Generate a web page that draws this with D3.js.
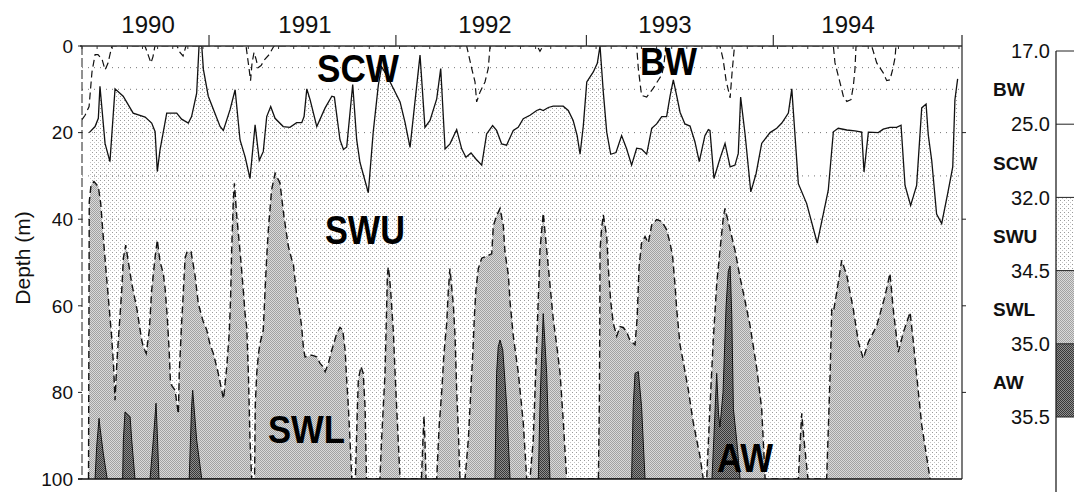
<!DOCTYPE html>
<html><head><meta charset="utf-8">
<script src="https://cdn.jsdelivr.net/npm/d3@7"></script>
<style>
html,body{margin:0;padding:0;background:#fff;}
svg{display:block;font-family:"Liberation Sans",Arial,Helvetica,sans-serif;}
</style></head><body>
<svg id="chart" width="1074" height="492"></svg>
<script>
// ---- DATA (time in decimal years, depth in m) ----
// 32.0 isohaline (SCW / SWU boundary), solid line
const iso32 = [[1989.790,20.0],[1989.822,18.6],[1989.840,16.7],[1989.849,9.3],[1989.877,22.5],[1989.904,26.7],[1989.932,9.9],[1989.977,11.6],[1990.032,15.5],[1990.098,16.4],[1990.134,17.8],[1990.153,19.8],[1990.165,29.0],[1990.180,24.0],[1990.217,15.5],[1990.272,15.5],[1990.299,16.9],[1990.336,17.8],[1990.354,16.3],[1990.382,10.9],[1990.395,0.0],[1990.410,0.0],[1990.419,5.4],[1990.446,11.6],[1990.511,18.6],[1990.529,19.5],[1990.566,14.7],[1990.594,10.1],[1990.621,21.7],[1990.649,25.6],[1990.676,30.6],[1990.704,18.2],[1990.727,26.4],[1990.749,24.4],[1990.768,16.3],[1990.790,14.0],[1990.814,16.7],[1990.859,18.6],[1990.896,18.8],[1990.933,17.7],[1990.961,17.7],[1990.974,16.3],[1990.989,9.9],[1991.007,12.4],[1991.044,18.6],[1991.090,14.3],[1991.127,11.6],[1991.141,11.8],[1991.172,21.7],[1991.191,23.9],[1991.209,23.3],[1991.242,8.9],[1991.264,21.7],[1991.282,26.9],[1991.328,33.9],[1991.355,19.9],[1991.383,9.1],[1991.401,4.8],[1991.429,6.7],[1991.466,9.8],[1991.503,12.9],[1991.530,17.6],[1991.558,23.4],[1991.585,12.9],[1991.613,2.1],[1991.640,18.8],[1991.668,17.2],[1991.705,12.2],[1991.727,5.2],[1991.751,23.8],[1991.778,22.6],[1991.815,19.3],[1991.843,23.8],[1991.866,25.7],[1991.894,24.7],[1991.921,26.1],[1991.953,27.5],[1991.980,20.3],[1992.013,18.4],[1992.035,19.5],[1992.063,22.6],[1992.090,22.9],[1992.127,19.5],[1992.154,18.8],[1992.182,16.8],[1992.219,16.0],[1992.256,14.9],[1992.274,14.6],[1992.292,14.9],[1992.320,14.2],[1992.347,13.9],[1992.402,13.9],[1992.430,14.9],[1992.457,17.2],[1992.479,20.7],[1992.495,25.0],[1992.513,18.4],[1992.532,8.3],[1992.568,6.0],[1992.590,4.0],[1992.605,0.0],[1992.623,10.6],[1992.642,19.9],[1992.664,25.0],[1992.693,24.6],[1992.724,20.7],[1992.752,23.8],[1992.779,27.5],[1992.807,23.6],[1992.834,23.8],[1992.862,25.0],[1992.890,19.0],[1992.917,18.0],[1992.945,16.3],[1992.972,16.3],[1992.991,11.6],[1993.009,7.8],[1993.028,11.6],[1993.046,15.3],[1993.073,18.0],[1993.101,18.5],[1993.128,22.1],[1993.152,26.7],[1993.183,20.7],[1993.202,19.3],[1993.211,19.5],[1993.233,30.6],[1993.266,26.0],[1993.294,22.5],[1993.322,27.9],[1993.349,27.5],[1993.367,24.8],[1993.380,11.8],[1993.404,20.2],[1993.436,33.7],[1993.465,29.5],[1993.496,22.5],[1993.542,20.0],[1993.579,19.0],[1993.607,17.8],[1993.643,15.5],[1993.662,9.9],[1993.698,31.8],[1993.744,36.4],[1993.802,45.5],[1993.863,33.3],[1993.891,19.8],[1993.918,19.0],[1993.965,19.4],[1994.010,19.6],[1994.047,19.9],[1994.060,29.1],[1994.084,19.9],[1994.139,20.0],[1994.166,19.2],[1994.203,18.8],[1994.240,18.8],[1994.264,18.3],[1994.286,32.2],[1994.317,36.8],[1994.350,32.2],[1994.378,14.3],[1994.402,13.4],[1994.414,20.5],[1994.433,26.4],[1994.460,38.8],[1994.488,41.0],[1994.521,34.1],[1994.549,27.9],[1994.561,12.4],[1994.576,7.6]];

// 34.5 isohaline (SWU / SWL boundary), dashed; 100 = absent
const iso345 = [[1989.750,100],[1989.786,100],[1989.790,36],[1989.800,32],[1989.816,31.3],[1989.840,32.5],[1989.853,36.3],[1989.867,44],[1989.886,53.7],[1989.904,62.5],[1989.914,67.5],[1989.924,74],[1989.932,81.8],[1989.941,74],[1989.950,68],[1989.960,62],[1989.969,56.4],[1989.978,49],[1989.991,46],[1990.006,50],[1990.024,54.8],[1990.052,60.6],[1990.079,67.9],[1990.088,69.5],[1990.104,71],[1990.121,65.6],[1990.134,56.4],[1990.153,48.7],[1990.165,44.8],[1990.180,49.8],[1990.198,52.5],[1990.208,56],[1990.219,62],[1990.230,70],[1990.238,78],[1990.263,79.5],[1990.281,85],[1990.286,75.6],[1990.299,64],[1990.307,58],[1990.318,49],[1990.329,47.5],[1990.351,47.5],[1990.373,53],[1990.391,59.5],[1990.417,63.5],[1990.437,65.5],[1990.456,69],[1990.474,71],[1990.501,75.6],[1990.520,79.5],[1990.530,81.5],[1990.535,79.5],[1990.548,74],[1990.562,66],[1990.569,58],[1990.575,47],[1990.584,35.5],[1990.590,31.7],[1990.603,39.3],[1990.625,49.3],[1990.639,56.4],[1990.649,62],[1990.658,65],[1990.667,75.6],[1990.676,91],[1990.685,100],[1990.701,100],[1990.705,83],[1990.713,75.6],[1990.723,71],[1990.731,68.7],[1990.749,65.6],[1990.759,56.4],[1990.768,48.7],[1990.777,42.5],[1990.795,33.2],[1990.814,29.4],[1990.841,31.6],[1990.863,39.3],[1990.887,46.2],[1990.906,49.3],[1990.914,50],[1990.933,57.5],[1990.952,62],[1990.961,65],[1990.970,69.5],[1990.979,71.8],[1991.016,71.4],[1991.044,71.8],[1991.062,73.3],[1991.077,74],[1991.090,75.2],[1991.108,73.3],[1991.127,70.2],[1991.154,66.4],[1991.172,65],[1991.187,65.6],[1991.200,70.2],[1991.209,77.2],[1991.218,83.3],[1991.227,91],[1991.237,100],[1991.257,100],[1991.266,86],[1991.273,77],[1991.288,74],[1991.300,75.6],[1991.310,83.3],[1991.318,100],[1991.392,100],[1991.401,91],[1991.411,83],[1991.420,75.6],[1991.428,62],[1991.433,53],[1991.438,51],[1991.444,53],[1991.451,56.4],[1991.466,66],[1991.475,75],[1991.484,83.3],[1991.503,100],[1991.621,100],[1991.629,91],[1991.635,85.5],[1991.640,91],[1991.646,100],[1991.705,100],[1991.718,88],[1991.733,79.5],[1991.745,71],[1991.760,64],[1991.769,56.4],[1991.778,51.4],[1991.797,60],[1991.806,67],[1991.815,79.5],[1991.825,90],[1991.833,100],[1991.861,100],[1991.879,91],[1991.898,75.6],[1991.905,70],[1991.913,62],[1991.921,56.4],[1991.934,51.4],[1991.953,49],[1992.008,48],[1992.017,41.5],[1992.037,39],[1992.054,37.5],[1992.072,41.5],[1992.081,47.5],[1992.100,53],[1992.109,59],[1992.127,67],[1992.155,75.6],[1992.182,87],[1992.201,100],[1992.219,100],[1992.237,91],[1992.256,69],[1992.265,58],[1992.274,47.2],[1992.292,38.6],[1992.311,47],[1992.329,55],[1992.347,63],[1992.366,69],[1992.385,75.6],[1992.403,87],[1992.421,100],[1992.596,100],[1992.602,80],[1992.604,62],[1992.605,47],[1992.614,42],[1992.623,39],[1992.642,44],[1992.651,51.4],[1992.664,59],[1992.678,64],[1992.697,67],[1992.715,64.8],[1992.733,65],[1992.752,66],[1992.770,68],[1992.798,69],[1992.810,62.6],[1992.820,51],[1992.834,45.5],[1992.853,44],[1992.871,45.5],[1992.890,41.3],[1992.917,40.1],[1992.945,40.5],[1992.972,42.4],[1992.991,45.5],[1993.005,48.6],[1993.018,55],[1993.028,61],[1993.046,69],[1993.064,73],[1993.092,79.5],[1993.119,87],[1993.156,94.8],[1993.174,100],[1993.193,100],[1993.211,83.3],[1993.229,68],[1993.248,55],[1993.266,47.2],[1993.285,39.4],[1993.294,37.5],[1993.322,42.4],[1993.349,47.2],[1993.377,53.5],[1993.395,57],[1993.432,64.6],[1993.469,74.5],[1993.496,83.7],[1993.515,100],[1993.698,100],[1993.710,90],[1993.717,84.8],[1993.727,90],[1993.751,100],[1993.854,100],[1993.873,76],[1993.882,61],[1993.891,61.5],[1993.909,57],[1993.937,49.5],[1993.965,53],[1994.001,60.8],[1994.029,68.4],[1994.056,72.2],[1994.084,68.4],[1994.130,64.6],[1994.176,57.7],[1994.203,52.5],[1994.221,60.8],[1994.249,70.7],[1994.277,66.1],[1994.314,61.5],[1994.332,68.4],[1994.350,76],[1994.378,87.5],[1994.406,95.1],[1994.424,100],[1994.600,100]];

// 35.0 isohaline (AW), 100 = absent
const iso35 = [[1989.750,100],[1989.822,100],[1989.831,92.5],[1989.844,86],[1989.849,88],[1989.867,94],[1989.889,100],[1989.974,100],[1989.978,91],[1989.987,84.5],[1990.015,85.6],[1990.024,91],[1990.042,100],[1990.125,100],[1990.143,91],[1990.158,82.5],[1990.165,89.5],[1990.174,100],[1990.341,100],[1990.354,83.3],[1990.360,79.5],[1990.382,91],[1990.410,100],[1992.026,100],[1992.035,75.6],[1992.044,69.5],[1992.054,67.9],[1992.069,70.2],[1992.091,83.3],[1992.109,100],[1992.265,100],[1992.274,83.3],[1992.283,71.8],[1992.292,61.8],[1992.311,75.6],[1992.329,100],[1992.779,100],[1992.788,83.3],[1992.798,75.6],[1992.816,75.2],[1992.834,83.3],[1992.853,100],[1993.222,100],[1993.233,90],[1993.248,75.6],[1993.258,85],[1993.266,88],[1993.283,80],[1993.300,60],[1993.312,52],[1993.322,50.8],[1993.331,62],[1993.340,83.8],[1993.359,91.4],[1993.377,100],[1994.600,100]];

// 25.0 isohaline (BW / SCW boundary), dashed; 0 = absent
const iso25 = [[1989.750,17],[1989.767,16],[1989.789,14],[1989.805,6],[1989.822,2],[1989.838,2],[1989.860,3],[1989.877,5.5],[1989.893,4],[1989.915,0],[1990.097,0],[1990.114,2],[1990.130,3.9],[1990.141,2.5],[1990.152,0],[1990.274,0],[1990.290,1.5],[1990.307,2.3],[1990.323,0],[1990.654,0],[1990.670,5],[1990.679,8],[1990.687,4],[1990.698,1.5],[1990.709,3],[1990.720,5],[1990.737,4.5],[1990.759,3],[1990.781,2],[1990.808,0],[1991.870,0],[1991.898,5.2],[1991.916,8.3],[1991.925,12.9],[1991.944,10.6],[1991.971,8.3],[1991.989,5.2],[1991.999,0],[1992.258,0],[1992.274,1.2],[1992.291,0],[1992.807,0],[1992.816,5.2],[1992.834,11.4],[1992.862,11.8],[1992.898,9.8],[1992.926,7.9],[1992.945,6.7],[1992.957,4.4],[1992.968,0],[1993.266,0],[1993.283,3],[1993.300,8],[1993.322,12],[1993.333,6],[1993.344,1],[1993.349,0],[1993.891,0],[1993.900,3.9],[1993.928,8.5],[1993.946,11.6],[1993.965,12.8],[1993.988,12.4],[1994.001,9.3],[1994.010,5.4],[1994.016,0],[1994.102,0],[1994.111,1.2],[1994.130,3.9],[1994.166,6.2],[1994.185,8],[1994.203,7.8],[1994.218,5.4],[1994.231,2.7],[1994.236,0],[1994.600,0]];

const depthTicks = [0, 20, 40, 60, 80, 100];
const gridDepths = [5, 10, 20, 30, 40];
const yearLabels = ["1990", "1991", "1992", "1993", "1994"];
const yearLabelAt = [1990.114, 1990.979, 1991.971, 1992.963, 1993.972];
const majorTicks = [1990.45, 1991.48, 1992.53, 1993.56];

const legendValues = ["17.0", "25.0", "32.0", "34.5", "35.0", "35.5"];
const legendNames = ["BW", "SCW", "SWU", "SWL", "AW"];

const regionNames = ["SCW", "BW", "SWU", "SWL", "AW"];
const regionAt = [[1991.045, 8.3], [1992.825, 6.7], [1991.089, 45.7], [1990.775, 91.7], [1993.250, 98.4]];

// ---- DRAWING ----
const svg = d3.select("#chart");
const x = d3.scaleLinear().domain([1989.75, 1994.6]).range([82, 962]);
const y = d3.scaleLinear().domain([0, 100]).range([46, 479]);

const defs = svg.append("defs");
function pattern(id, w, cells) {
  const p = defs.append("pattern").attr("id", id).attr("width", w).attr("height", w)
    .attr("patternUnits", "userSpaceOnUse");
  cells.forEach(c => p.append("rect").attr("x", c[0]).attr("y", c[1])
    .attr("width", c[2]).attr("height", c[3]).attr("fill", c[4]));
}
pattern("pSWU", 4, [[0,0,4,4,"#ffffff"],[0,0,1,1,"#9a9a9a"],[2,2,1,1,"#c4c4c4"]]);
pattern("pSWL", 2, [[0,0,2,2,"#dadada"],[0,0,1,1,"#a2a2a2"],[1,1,1,1,"#a2a2a2"]]);
pattern("pAW", 2, [[0,0,2,2,"#8e8e8e"],[0,0,1,1,"#383838"],[1,1,1,1,"#383838"]]);
defs.append("clipPath").attr("id", "clip").append("rect")
  .attr("x", 82).attr("y", 46).attr("width", 880).attr("height", 433);

const g = svg.append("g").attr("clip-path", "url(#clip)");
const area = d3.area().x(d => x(d[0])).y0(y(100)).y1(d => y(d[1]));

g.append("path").datum(iso32).attr("d", area).attr("fill", "url(#pSWU)");

g.selectAll(".grid").data(gridDepths).join("line")
  .attr("x1", x(1989.75)).attr("x2", x(1994.6))
  .attr("y1", d => y(d)).attr("y2", d => y(d))
  .attr("stroke", "#777").attr("stroke-width", 1).attr("stroke-dasharray", "1,5");

g.append("path").datum(iso345).attr("d", area).attr("fill", "url(#pSWL)");
g.append("path").datum(iso35).attr("d", area).attr("fill", "url(#pAW)");

function near(test) {
  return (d, i, arr) => test(d) || (i > 0 && test(arr[i-1])) || (i < arr.length-1 && test(arr[i+1]));
}
const lineDeep = d3.line().defined(near(d => d[1] < 100)).x(d => x(d[0])).y(d => y(d[1]));
const lineTop = d3.line().defined(near(d => d[1] > 0)).x(d => x(d[0])).y(d => y(d[1]));
const lineAll = d3.line().x(d => x(d[0])).y(d => y(d[1]));

g.append("path").datum(iso35).attr("d", lineDeep).attr("fill", "none")
  .attr("stroke", "#111").attr("stroke-width", 1);
g.append("path").datum(iso345).attr("d", lineDeep).attr("fill", "none")
  .attr("stroke", "#111").attr("stroke-width", 1.4).attr("stroke-dasharray", "7,4");
g.append("path").datum(iso25).attr("d", lineTop).attr("fill", "none")
  .attr("stroke", "#111").attr("stroke-width", 1.2).attr("stroke-dasharray", "7,4");
g.append("path").datum(iso32).attr("d", lineAll).attr("fill", "none")
  .attr("stroke", "#111").attr("stroke-width", 1.3);

// frame
const ax = svg.append("g");
ax.append("line").attr("x1", 80).attr("x2", x(1994.6)).attr("y1", y(0)).attr("y2", y(0))
  .attr("stroke", "#333").attr("stroke-width", 1.5);
ax.append("line").attr("x1", 78).attr("x2", x(1994.6)).attr("y1", y(100)).attr("y2", y(100))
  .attr("stroke", "#111").attr("stroke-width", 1.6);
ax.append("line").attr("x1", x(1989.75)).attr("x2", x(1989.75)).attr("y1", y(0)).attr("y2", y(100))
  .attr("stroke", "#222").attr("stroke-width", 1).attr("stroke-dasharray", "9,3");
ax.append("line").attr("x1", x(1994.6)).attr("x2", x(1994.6)).attr("y1", y(0) - 11).attr("y2", y(100))
  .attr("stroke", "#222").attr("stroke-width", 1.2);

// top ticks (monthly minor, major)
const months = d3.range(Math.ceil(1989.75 * 12), Math.floor(1994.6 * 12) + 1).map(m => m / 12);
ax.selectAll(".mt").data(months).join("line")
  .attr("x1", d => x(d)).attr("x2", d => x(d)).attr("y1", y(0)).attr("y2", y(0) + 3)
  .attr("stroke", "#333").attr("stroke-width", 1);
ax.selectAll(".Mt").data(majorTicks).join("line")
  .attr("x1", d => x(d)).attr("x2", d => x(d)).attr("y1", y(0) - 11).attr("y2", y(0))
  .attr("stroke", "#333").attr("stroke-width", 1.2);
ax.selectAll(".yl").data(yearLabels).join("text")
  .attr("x", (d, i) => x(yearLabelAt[i])).attr("y", 33)
  .attr("text-anchor", "middle").attr("font-size", 24).attr("fill", "#111").text(d => d);

// depth axis
ax.selectAll(".lt").data(depthTicks).join("line")
  .attr("x1", 78).attr("x2", x(1989.75)).attr("y1", d => y(d)).attr("y2", d => y(d))
  .attr("stroke", "#222").attr("stroke-width", 1);
ax.selectAll(".rt").data(depthTicks.slice(1, -1)).join("line")
  .attr("x1", x(1994.6)).attr("x2", x(1994.6) + 4).attr("y1", d => y(d)).attr("y2", d => y(d))
  .attr("stroke", "#222").attr("stroke-width", 1);
ax.selectAll(".dl").data(depthTicks).join("text")
  .attr("x", 73).attr("y", d => y(d)).attr("dy", "0.36em")
  .attr("text-anchor", "end").attr("font-size", 19).attr("fill", "#111").text(d => d);
ax.append("text").attr("transform", "translate(22,258) rotate(-90)")
  .attr("text-anchor", "middle").attr("dy", "0.36em").attr("font-size", 21)
  .attr("fill", "#111").text("Depth (m)");

// region labels
const regSize = [38, 39, 41, 39, 41];
const regWidth = [82, 57, 80, 77, 56];
svg.selectAll(".rg").data(regionNames).join("text")
  .attr("x", (d, i) => x(regionAt[i][0])).attr("y", (d, i) => y(regionAt[i][1]))
  .attr("font-size", (d, i) => regSize[i]).attr("font-weight", "bold")
  .attr("textLength", (d, i) => regWidth[i]).attr("lengthAdjust", "spacingAndGlyphs")
  .attr("fill", "#000").text(d => d);

// legend colour bar
const yL = d3.scalePoint().domain(legendValues).range([51, 417]);
const legFills = ["#ffffff", "#ffffff", "url(#pSWU)", "url(#pSWL)", "url(#pAW)"];
const lg = svg.append("g");
lg.selectAll(".lb").data(legendNames).join("rect")
  .attr("x", 1056).attr("width", 30)
  .attr("y", (d, i) => yL(legendValues[i]))
  .attr("height", (d, i) => yL(legendValues[i + 1]) - yL(legendValues[i]))
  .attr("fill", (d, i) => legFills[i]);
lg.selectAll(".ll").data(legendValues).join("line")
  .attr("x1", 1056).attr("x2", 1074).attr("y1", d => yL(d)).attr("y2", d => yL(d))
  .attr("stroke", "#222").attr("stroke-width", 1);
lg.append("line").attr("x1", 1056).attr("x2", 1056).attr("y1", yL("17.0")).attr("y2", 492)
  .attr("stroke", "#222").attr("stroke-width", 1.3);
lg.selectAll(".lv").data(legendValues).join("text")
  .attr("x", 1050).attr("y", d => yL(d)).attr("dy", "0.36em")
  .attr("text-anchor", "end").attr("font-size", 20).attr("fill", "#111").text(d => d);
lg.selectAll(".ln").data(legendNames).join("text")
  .attr("x", 993).attr("y", (d, i) => (yL(legendValues[i]) + yL(legendValues[i + 1])) / 2 + 2)
  .attr("dy", "0.36em").attr("font-size", 19).attr("font-weight", "bold")
  .attr("fill", "#111").text(d => d);
</script>
</body></html>
